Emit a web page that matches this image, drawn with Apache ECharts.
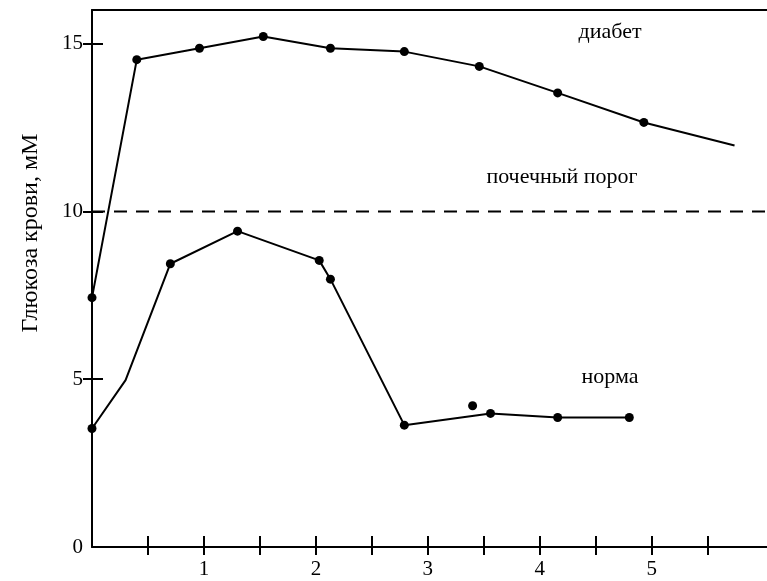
<!DOCTYPE html>
<html>
<head>
<meta charset="utf-8">
<script src="https://cdn.jsdelivr.net/npm/echarts@6/dist/echarts.min.js"></script>
<style>
  html, body { margin: 0; padding: 0; background: #fff; }
  #chart { width: 767px; height: 581px; }
</style>
</head>
<body>
<div id="chart"></div>
<script>
    // кривые глюкозы крови
    const diabetX = [0, 0.40, 0.96, 1.53, 2.13, 2.79, 3.46, 4.16, 4.93, 5.74];
    const diabetY = [7.43, 14.52, 14.86, 15.21, 14.86, 14.76, 14.32, 13.53, 12.65, 11.96];
    const diabetDot = [1, 1, 1, 1, 1, 1, 1, 1, 1, 0];

    const normaX = [0, 0.30, 0.70, 1.30, 2.03, 2.13, 2.79, 3.56, 4.16, 4.80];
    const normaY = [3.53, 4.97, 8.44, 9.41, 8.54, 7.98, 3.63, 3.98, 3.86, 3.86];
    const normaDot = [1, 0, 1, 1, 1, 1, 1, 1, 1, 1];

    const strayPoint = [[3.40, 4.21]];
    const threshold = 10;

    const xTicks = [0.5, 1, 1.5, 2, 2.5, 3, 3.5, 4, 4.5, 5, 5.5];
    const xLabels = [1, 2, 3, 4, 5];
    const yTicks = [5, 10, 15];
    const yLabels = [0, 5, 10, 15];

    const xMax = 6.03;
    const yMax = 16;

    const font = 'Liberation Serif';

    function points(xs, ys, dots) {
        return xs.map(function (x, i) {
            return { value: [x, ys[i]], symbol: dots[i] ? 'circle' : 'none' };
        });
    }

    const chart = echarts.init(document.getElementById('chart'));

    const option = {
        animation: false,
        backgroundColor: '#fff',
        grid: { left: 92, right: 0, top: 10, bottom: 34 },
        xAxis: [
            {
                type: 'value', min: 0, max: xMax, position: 'bottom',
                axisLine: { show: true, onZero: false, lineStyle: { color: '#000', width: 2 } },
                axisTick: { show: true, length: 8, lineStyle: { color: '#000', width: 2 }, customValues: xTicks },
                axisLabel: { customValues: xLabels, margin: 12, color: '#000', fontFamily: font, fontSize: 21 },
                splitLine: { show: false }
            },
            {
                type: 'value', min: 0, max: xMax, position: 'bottom',
                axisLine: { show: false },
                axisTick: { show: true, inside: true, length: 11, lineStyle: { color: '#000', width: 2 }, customValues: xTicks },
                axisLabel: { show: false },
                splitLine: { show: false }
            },
            {
                type: 'value', min: 0, max: xMax, position: 'top',
                axisLine: { show: true, onZero: false, lineStyle: { color: '#000', width: 2 } },
                axisTick: { show: false },
                axisLabel: { show: false },
                splitLine: { show: false }
            }
        ],
        yAxis: [
            {
                type: 'value', min: 0, max: yMax, position: 'left',
                axisLine: { show: true, onZero: false, lineStyle: { color: '#000', width: 2 } },
                axisTick: { show: true, length: 9, lineStyle: { color: '#000', width: 2 }, customValues: yTicks },
                axisLabel: { customValues: yLabels, margin: 9, color: '#000', fontFamily: font, fontSize: 21 },
                splitLine: { show: false }
            },
            {
                type: 'value', min: 0, max: yMax, position: 'left',
                axisLine: { show: false },
                axisTick: { show: true, inside: true, length: 11, lineStyle: { color: '#000', width: 2 }, customValues: yTicks },
                axisLabel: { show: false },
                splitLine: { show: false }
            }
        ],
        series: [
            {
                name: 'почечный порог',
                type: 'line',
                data: [[0, threshold], [xMax, threshold]],
                symbol: 'none',
                clip: false,
                lineStyle: { color: '#000', width: 2, type: [13, 9] }
            },
            {
                name: 'диабет',
                type: 'line',
                data: points(diabetX, diabetY, diabetDot),
                symbolSize: 9,
                clip: false,
                itemStyle: { color: '#000' },
                lineStyle: { color: '#000', width: 2 }
            },
            {
                name: 'норма',
                type: 'line',
                data: points(normaX, normaY, normaDot),
                symbolSize: 9,
                clip: false,
                itemStyle: { color: '#000' },
                lineStyle: { color: '#000', width: 2 }
            },
            {
                name: 'норма, отдельная точка',
                type: 'scatter',
                data: strayPoint,
                symbolSize: 9,
                itemStyle: { color: '#000', opacity: 1 }
            }
        ],
        graphic: [
            {
                type: 'text', x: 31, y: 233, rotation: Math.PI / 2,
                style: { text: 'Глюкоза крови, мМ', font: '24px "Liberation Serif"', fill: '#000', align: 'center', verticalAlign: 'middle' }
            },
            {
                type: 'text', x: 610, y: 32,
                style: { text: 'диабет', font: '22px "Liberation Serif"', fill: '#000', align: 'center', verticalAlign: 'middle' }
            },
            {
                type: 'text', x: 562, y: 177,
                style: { text: 'почечный порог', font: '22px "Liberation Serif"', fill: '#000', align: 'center', verticalAlign: 'middle' }
            },
            {
                type: 'text', x: 610, y: 377,
                style: { text: 'норма', font: '22px "Liberation Serif"', fill: '#000', align: 'center', verticalAlign: 'middle' }
            }
        ]
    };

    chart.setOption(option);
</script>
</body>
</html>
